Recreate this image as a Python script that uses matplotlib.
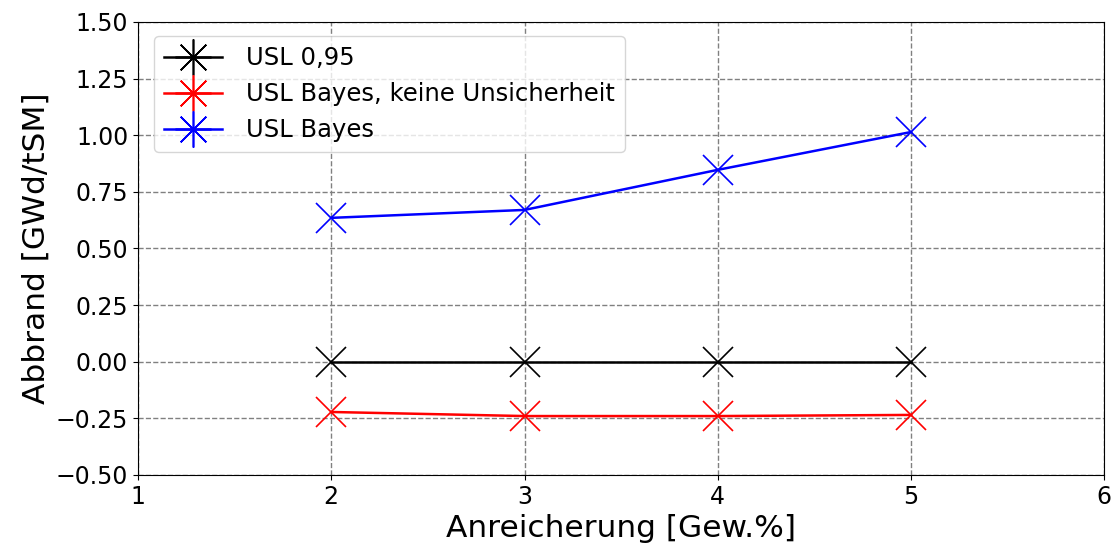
import numpy as np
import matplotlib
matplotlib.use("Agg")
import matplotlib.pyplot as plt
from matplotlib.lines import Line2D

# enrichment levels [Gew.%]
enrichment = [2, 3, 4, 5]

# burnup limits [GWd/tSM]
usl_095 = [0.0, 0.0, 0.0, 0.0]
usl_bayes_no_unc = [-0.222, -0.240, -0.240, -0.235]
usl_bayes = [0.635, 0.670, 0.847, 1.014]

labels = ["USL 0,95", "USL Bayes, keine Unsicherheit", "USL Bayes"]
colors = ["black", "red", "blue"]

fig = plt.figure(figsize=(11.18, 5.48), dpi=100)
ax = fig.add_axes([0.1234, 0.1333, 0.8644, 0.8267])

for ys, c in zip([usl_095, usl_bayes_no_unc, usl_bayes], colors):
    ax.plot(enrichment, ys, color=c, linewidth=1.8, marker="x",
            markersize=22, markeredgewidth=1.2)

ax.set_xlim(1, 6)
ax.set_ylim(-0.5, 1.5)
ax.set_xticks(np.arange(1, 7, 1))
ax.set_yticks(np.arange(-0.5, 1.51, 0.25))
ax.tick_params(labelsize=17)
ax.grid(True, linestyle="--", color="gray", linewidth=1)
ax.set_xlabel("Anreicherung [Gew.%]", fontsize=22.5)
ax.set_ylabel("Abbrand [GWd/tSM]", fontsize=22.5)

handles = [Line2D([], [], color=c, linewidth=1.8, marker=(8, 2, 0),
                  markersize=26, markeredgewidth=1.2) for c in colors]
ax.legend(handles, labels, loc="upper left", fontsize=17.5,
          handlelength=2.4, borderpad=0.4, labelspacing=0.5,
          handletextpad=1.0, bbox_to_anchor=(0.004, 0.995))

fig.savefig("out.png", dpi=100)
